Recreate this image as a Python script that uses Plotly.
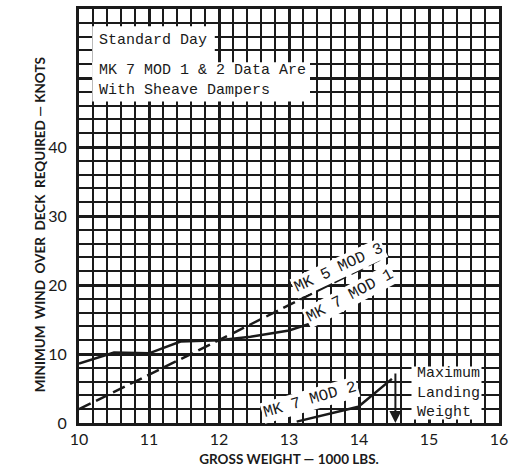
import plotly.graph_objects as go

# Data
mk7mod1_x = [10.0, 10.5, 11.0, 11.45, 12.0, 12.45, 13.0, 13.42, 14.25, 14.42]
mk7mod1_y = [8.6, 10.2, 10.1, 11.8, 12.0, 12.5, 13.4, 14.8, 19.6, 20.5]

mk5mod3_x = [10.0, 12.0, 14.42]
mk5mod3_y = [2.0, 12.0, 24.3]

mk7mod2_x = [13.11, 13.99, 14.47]
mk7mod2_y = [0.2, 2.35, 6.4]

max_landing_weight = 14.52
x_ticks = [10, 11, 12, 13, 14, 15, 16]
y_ticks = [0, 10, 20, 30, 40, 50, 60]
y_ticktext = ["0", "10", "20", "30", "40", "", ""]

INK = "#1a1a1a"
MONO = "Liberation Mono, Courier New, monospace"
SANS = "Lato, DejaVu Sans, sans-serif"

fig = go.Figure()
fig.add_trace(go.Scatter(x=mk7mod1_x, y=mk7mod1_y, mode="lines",
                         line=dict(color=INK, width=2.5), name="MK 7 MOD 1"))
fig.add_trace(go.Scatter(x=mk5mod3_x, y=mk5mod3_y, mode="lines",
                         line=dict(color=INK, width=2.5, dash="13px,6px"), name="MK 5 MOD 3"))
fig.add_trace(go.Scatter(x=mk7mod2_x, y=mk7mod2_y, mode="lines",
                         line=dict(color=INK, width=2.5), name="MK 7 MOD 2"))

# white patches for the note boxes
fig.add_shape(type="rect", x0=10.19, x1=11.94, y0=50.0, y1=57.5,
              fillcolor="white", line=dict(width=0), layer="above")
fig.add_shape(type="rect", x0=10.19, x1=13.3, y0=46.6, y1=52.3,
              fillcolor="white", line=dict(width=0), layer="above")
fig.add_shape(type="rect", x0=14.75, x1=15.75, y0=0.5, y1=8.2,
              fillcolor="white", line=dict(width=0), layer="above")

ann_font = dict(family=MONO, size=15, color=INK)
fig.add_annotation(x=10.26, y=55.4, xref="x", yref="y", text="Standard Day",
                   showarrow=False, xanchor="left", font=ann_font)
fig.add_annotation(x=10.26, y=49.6, xref="x", yref="y",
                   text="MK 7 MOD 1 & 2 Data Are<br>With Sheave Dampers",
                   showarrow=False, xanchor="left", align="left", font=ann_font)
fig.add_annotation(x=14.8, y=4.3, xref="x", yref="y",
                   text="Maximum<br>Landing<br>Weight", xanchor="left",
                   showarrow=False, align="left", font=ann_font)

curve_font = dict(family=MONO, size=16, color=INK)
fig.add_annotation(x=13.72, y=22.4, text="MK 5 MOD 3", textangle=-25, showarrow=False,
                   font=curve_font, bgcolor="white", borderpad=1)
fig.add_annotation(x=13.87, y=18.4, text="MK 7 MOD 1", textangle=-28, showarrow=False,
                   font=curve_font, bgcolor="white", borderpad=1)
fig.add_annotation(x=13.3, y=3.3, text="MK 7 MOD 2", textangle=-16, showarrow=False,
                   font=curve_font, bgcolor="white", borderpad=1)

# maximum landing weight arrow
fig.add_annotation(x=max_landing_weight, y=0, ax=max_landing_weight, ay=7.4,
                   xref="x", yref="y", axref="x", ayref="y", text="",
                   showarrow=True, arrowhead=2, arrowsize=1.2, arrowwidth=2, arrowcolor=INK)

# y-axis title placed as rotated text
fig.add_annotation(x=-0.117, y=0.48, xref="paper", yref="paper",
                   text="MINIMUM  WIND  OVER  DECK  REQUIRED — KNOTS", textangle=-90,
                   showarrow=False, font=dict(family=SANS, size=13.5, color=INK, weight="bold"))

fig.update_layout(
    width=509, height=469,
    margin=dict(l=79, r=10, t=9, b=46, autoexpand=False),
    paper_bgcolor="white", plot_bgcolor="white",
    showlegend=False,
    font=dict(family=SANS, color=INK),
)
fig.update_xaxes(
    range=[10, 16], tickvals=x_ticks, showgrid=True, gridcolor=INK, gridwidth=2.8,
    minor=dict(dtick=0.2, showgrid=True, gridcolor=INK, gridwidth=1.5),
    showline=True, linecolor=INK, linewidth=3, mirror=True, zeroline=False,
    tickfont=dict(family=SANS, size=16, color=INK), ticks="", automargin=False,
    title=dict(text="GROSS WEIGHT — 1000 LBS.",
               font=dict(family=SANS, size=13.5, color=INK, weight="bold"), standoff=8),
)
fig.update_yaxes(
    range=[0, 60], tickvals=y_ticks, ticktext=y_ticktext, showgrid=True, gridcolor=INK, gridwidth=2.8,
    minor=dict(dtick=2, showgrid=True, gridcolor=INK, gridwidth=1.5),
    showline=True, linecolor=INK, linewidth=3, mirror=True, zeroline=False,
    tickfont=dict(family=SANS, size=16, color=INK), ticks="", ticklabelstandoff=6, automargin=False,
)

fig.write_html("out.html")
